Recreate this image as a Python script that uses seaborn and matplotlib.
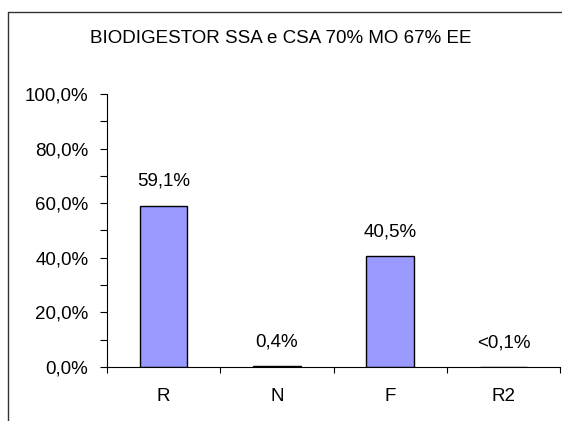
import matplotlib
matplotlib.use("Agg")
import matplotlib.pyplot as plt
import seaborn as sns
from matplotlib.lines import Line2D
from matplotlib.ticker import FuncFormatter, MultipleLocator, FixedLocator

sns.set_style("white")
plt.rcParams['font.family'] = ['Liberation Sans', 'DejaVu Sans']
plt.rcParams['text.color'] = 'black'
plt.rcParams['xtick.color'] = 'black'
plt.rcParams['ytick.color'] = 'black'

# datos
categorias = ["R", "N", "F", "R2"]
valores = [0.591, 0.004, 0.405, 0.0]
etiquetas = ["59,1%", "0,4%", "40,5%", "<0,1%"]
titulo = "BIODIGESTOR SSA e CSA 70% MO 67% EE"

FS = 13.5

fig = plt.figure(figsize=(5.62, 4.21), dpi=100)
ax = fig.add_axes([107 / 562, (421 - 367) / 421, (560 - 107) / 562, 273 / 421])

sns.barplot(x=categorias, y=valores, color="#9999FF", edgecolor="black",
            linewidth=1.0, width=0.42, saturation=1, ax=ax)

ax.set_ylim(0, 1.0)
ax.set_xlim(-0.5, len(categorias) - 0.5)
ax.set_xlabel("")
ax.set_ylabel("")

# eje y
ax.yaxis.set_major_locator(MultipleLocator(0.2))
ax.yaxis.set_minor_locator(MultipleLocator(0.1))
ax.yaxis.set_major_formatter(FuncFormatter(lambda v, p: f"{v * 100:.1f}%".replace(".", ",")))
ax.tick_params(axis="y", which="both", direction="out", length=5, width=0.8,
               color="black", labelcolor="black", left=True, labelsize=FS, pad=8.5)

# eje x: marcas en los limites de categoria, etiquetas centradas
ax.xaxis.set_major_locator(FixedLocator([i - 0.5 for i in range(len(categorias) + 1)]))
ax.set_xticklabels([""] * (len(categorias) + 1))
ax.set_xticks(range(len(categorias)), minor=True)
ax.set_xticklabels(categorias, minor=True)
ax.tick_params(axis="x", which="major", direction="out", length=4, width=0.8,
               color="black", bottom=True)
ax.tick_params(axis="x", which="minor", length=0, labelsize=FS, labelcolor="black", pad=15)

for lado in ["top", "right"]:
    ax.spines[lado].set_visible(False)
for lado in ["left", "bottom"]:
    ax.spines[lado].set_color("black")
    ax.spines[lado].set_linewidth(0.8)

ax.bar_label(ax.containers[0], labels=etiquetas, padding=11.3, fontsize=FS, color="black")

fig.text(0.5, 1 - 42.7 / 421, titulo, ha="center", va="baseline", fontsize=FS, color="black")

# marco exterior (recortado por la imagen a la derecha y abajo)
fig.add_artist(Line2D([7.5 / 562, 7.5 / 562], [0, 1 - 11.5 / 421],
                      transform=fig.transFigure, color="#333333", lw=1.0))
fig.add_artist(Line2D([7.5 / 562, 1], [1 - 11.5 / 421, 1 - 11.5 / 421],
                      transform=fig.transFigure, color="#333333", lw=1.0))

fig.savefig("out.png", dpi=100)
plt.close(fig)
